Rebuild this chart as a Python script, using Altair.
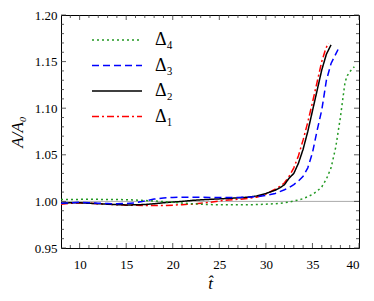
import altair as alt
import pandas as pd

# ---- data ----
t1 = [8, 9, 10, 11, 12, 13, 14, 15, 16, 17, 18, 19, 20, 21, 22, 23, 24, 25, 26, 27, 28, 29, 30, 31, 31.5, 32, 32.5, 33, 33.5, 34, 34.5, 35, 35.5, 36, 36.4, 36.7]
a1 = [0.997, 0.998, 0.9985, 0.998, 0.9975, 0.997, 0.9965, 0.996, 0.9958, 0.9956, 0.9955, 0.9956, 0.996, 0.9965, 0.997, 0.998, 0.999, 1.0005, 1.0015, 1.0022, 1.003, 1.0045, 1.008, 1.013, 1.016, 1.020, 1.027, 1.036, 1.049, 1.066, 1.085, 1.106, 1.128, 1.150, 1.163, 1.170]

t2 = [8, 9, 10, 11, 12, 13, 14, 15, 16, 17, 18, 19, 20, 21, 22, 23, 24, 25, 26, 27, 28, 29, 30, 31, 31.5, 32, 32.5, 33, 33.5, 34, 34.5, 35, 35.5, 36, 36.5, 37]
a2 = [0.998, 0.9985, 0.9985, 0.998, 0.9975, 0.997, 0.9965, 0.9962, 0.9963, 0.9967, 0.9975, 0.9985, 0.9993, 1.0, 1.001, 1.0017, 1.0022, 1.0027, 1.0032, 1.0038, 1.0045, 1.0058, 1.0085, 1.012, 1.0145, 1.018, 1.025, 1.030, 1.041, 1.056, 1.075, 1.097, 1.119, 1.141, 1.158, 1.168]

t3 = [8, 9, 10, 11, 12, 13, 14, 15, 16, 17, 18, 19, 20, 21, 22, 23, 24, 25, 26, 27, 28, 29, 30, 31, 31.5, 32, 32.5, 33, 33.5, 34, 34.5, 35, 35.5, 36, 36.5, 37, 37.5, 37.75]
a3 = [0.998, 0.9985, 0.999, 0.9985, 0.998, 0.9977, 0.9975, 0.9977, 0.9985, 1.0005, 1.0025, 1.0037, 1.0043, 1.0045, 1.0045, 1.0044, 1.0043, 1.0042, 1.0042, 1.0043, 1.0045, 1.005, 1.0065, 1.0085, 1.0105, 1.0125, 1.015, 1.018, 1.022, 1.027, 1.036, 1.052, 1.076, 1.098, 1.130, 1.148, 1.158, 1.163]

t4 = [8, 9, 10, 11, 12, 13, 14, 15, 16, 17, 18, 19, 20, 21, 22, 23, 24, 25, 26, 27, 28, 29, 30, 31, 32, 32.5, 33, 33.5, 34, 34.5, 35, 35.5, 36, 36.5, 37, 37.5, 38, 38.5, 38.75, 39, 39.5]
a4 = [1.002, 1.002, 1.0022, 1.0022, 1.0022, 1.0021, 1.002, 1.0018, 1.0015, 1.001, 1.0005, 0.9998, 0.999, 0.9982, 0.9975, 0.997, 0.9966, 0.9964, 0.9963, 0.9963, 0.9964, 0.9966, 0.997, 0.9975, 0.9985, 0.9993, 1.0005, 1.0015, 1.003, 1.005, 1.0075, 1.011, 1.0155, 1.024, 1.036, 1.058, 1.090, 1.128, 1.135, 1.139, 1.1445]

names = ["Δ₄", "Δ₃", "Δ₂", "Δ₁"]
colors = ["#229922", "#0000ff", "#000000", "#ff0000"]
dashes = [[2, 3], [7, 4], [1, 0], [7, 3, 2, 3]]

x_major = [10, 15, 20, 25, 30, 35, 40]
x_minor = [9, 11, 12, 13, 14, 16, 17, 18, 19, 21, 22, 23, 24, 26, 27, 28, 29, 31, 32, 33, 34, 36, 37, 38, 39]
y_major = [0.95, 1.00, 1.05, 1.10, 1.15, 1.20]
y_minor = [0.96, 0.97, 0.98, 0.99, 1.01, 1.02, 1.03, 1.04, 1.06, 1.07, 1.08, 1.09,
           1.11, 1.12, 1.13, 1.14, 1.16, 1.17, 1.18, 1.19]
y_ref = [1.0]

W, H = 298, 233
FONT = "Liberation Serif, DejaVu Serif, serif"

rows = []
for nm, ts, vs in [(names[3], t1, a1), (names[2], t2, a2), (names[1], t3, a3), (names[0], t4, a4)]:
    for t, v in zip(ts, vs):
        rows.append({"t": t, "a": v, "series": nm})
df = pd.DataFrame(rows)

xs = alt.Scale(domain=[8, 40], nice=False, zero=False)
ys = alt.Scale(domain=[0.95, 1.20], nice=False, zero=False)
XT = "t\u0302"
YT = "A/A₀"

xaxis = alt.Axis(values=x_major, format="d", ticks=False, grid=False, domain=False,
                 labelFont=FONT, labelFontSize=13, labelColor="black", labelPadding=10,
                 titleFont=FONT, titleFontSize=17, titleFontStyle="italic",
                 titleFontWeight="normal", titleColor="black", titlePadding=4)
yaxis = alt.Axis(values=y_major, format=".2f", ticks=False, grid=False, domain=False,
                 labelFont=FONT, labelFontSize=13, labelColor="black", labelPadding=4,
                 titleFont=FONT, titleFontSize=17, titleFontStyle="italic",
                 titleFontWeight="normal", titleColor="black", titlePadding=8)

def X(field):
    return alt.X(field, scale=xs, title=XT, axis=xaxis)

def Y(field):
    return alt.Y(field, scale=ys, title=YT, axis=yaxis)

lines = alt.Chart(df).mark_line(strokeWidth=1.5, clip=True).encode(
    x=X("t:Q"),
    y=Y("a:Q"),
    color=alt.Color("series:N", scale=alt.Scale(domain=names, range=colors), title=None),
    strokeDash=alt.StrokeDash("series:N", scale=alt.Scale(domain=names, range=dashes), title=None),
    detail="series:N",
)

ref = alt.Chart(pd.DataFrame({"y": y_ref})).mark_rule(color="#aaaaaa", strokeWidth=1).encode(
    y=Y("y:Q")
)

TC = "#333333"

def xticks(vals, ln):
    d = pd.DataFrame({"v": vals})
    b = alt.Chart(d).mark_rule(color=TC, strokeWidth=0.8).encode(
        x=X("v:Q"), y=alt.value(H), y2=alt.value(H - ln))
    t = alt.Chart(d).mark_rule(color=TC, strokeWidth=0.8).encode(
        x=X("v:Q"), y=alt.value(0), y2=alt.value(ln))
    return [b, t]

def yticks(vals, ln):
    d = pd.DataFrame({"v": vals})
    l = alt.Chart(d).mark_rule(color=TC, strokeWidth=0.8).encode(
        y=Y("v:Q"), x=alt.value(0), x2=alt.value(ln))
    r = alt.Chart(d).mark_rule(color=TC, strokeWidth=0.8).encode(
        y=Y("v:Q"), x=alt.value(W), x2=alt.value(W - ln))
    return [l, r]

layers = [ref] + xticks(x_major, 5) + xticks(x_minor, 3) + yticks(y_major, 5) + yticks(y_minor, 3) + [lines]

chart = alt.layer(*layers).properties(
    width=W, height=H,
    autosize=alt.AutoSizeParams(type="none"),
    padding={"left": 53, "top": 7, "right": 7, "bottom": 45},
).configure_view(
    stroke="black", strokeWidth=1
).configure_legend(
    orient="none", legendX=30, legendY=14,
    symbolType="stroke", symbolSize=2500, symbolStrokeWidth=1.5,
    labelFont=FONT, labelFontSize=18, labelColor="black", labelOffset=12,
    clipHeight=22, rowPadding=3.5, padding=0,
)

chart.save("out.html", embed_options={"renderer": "svg", "actions": False})
